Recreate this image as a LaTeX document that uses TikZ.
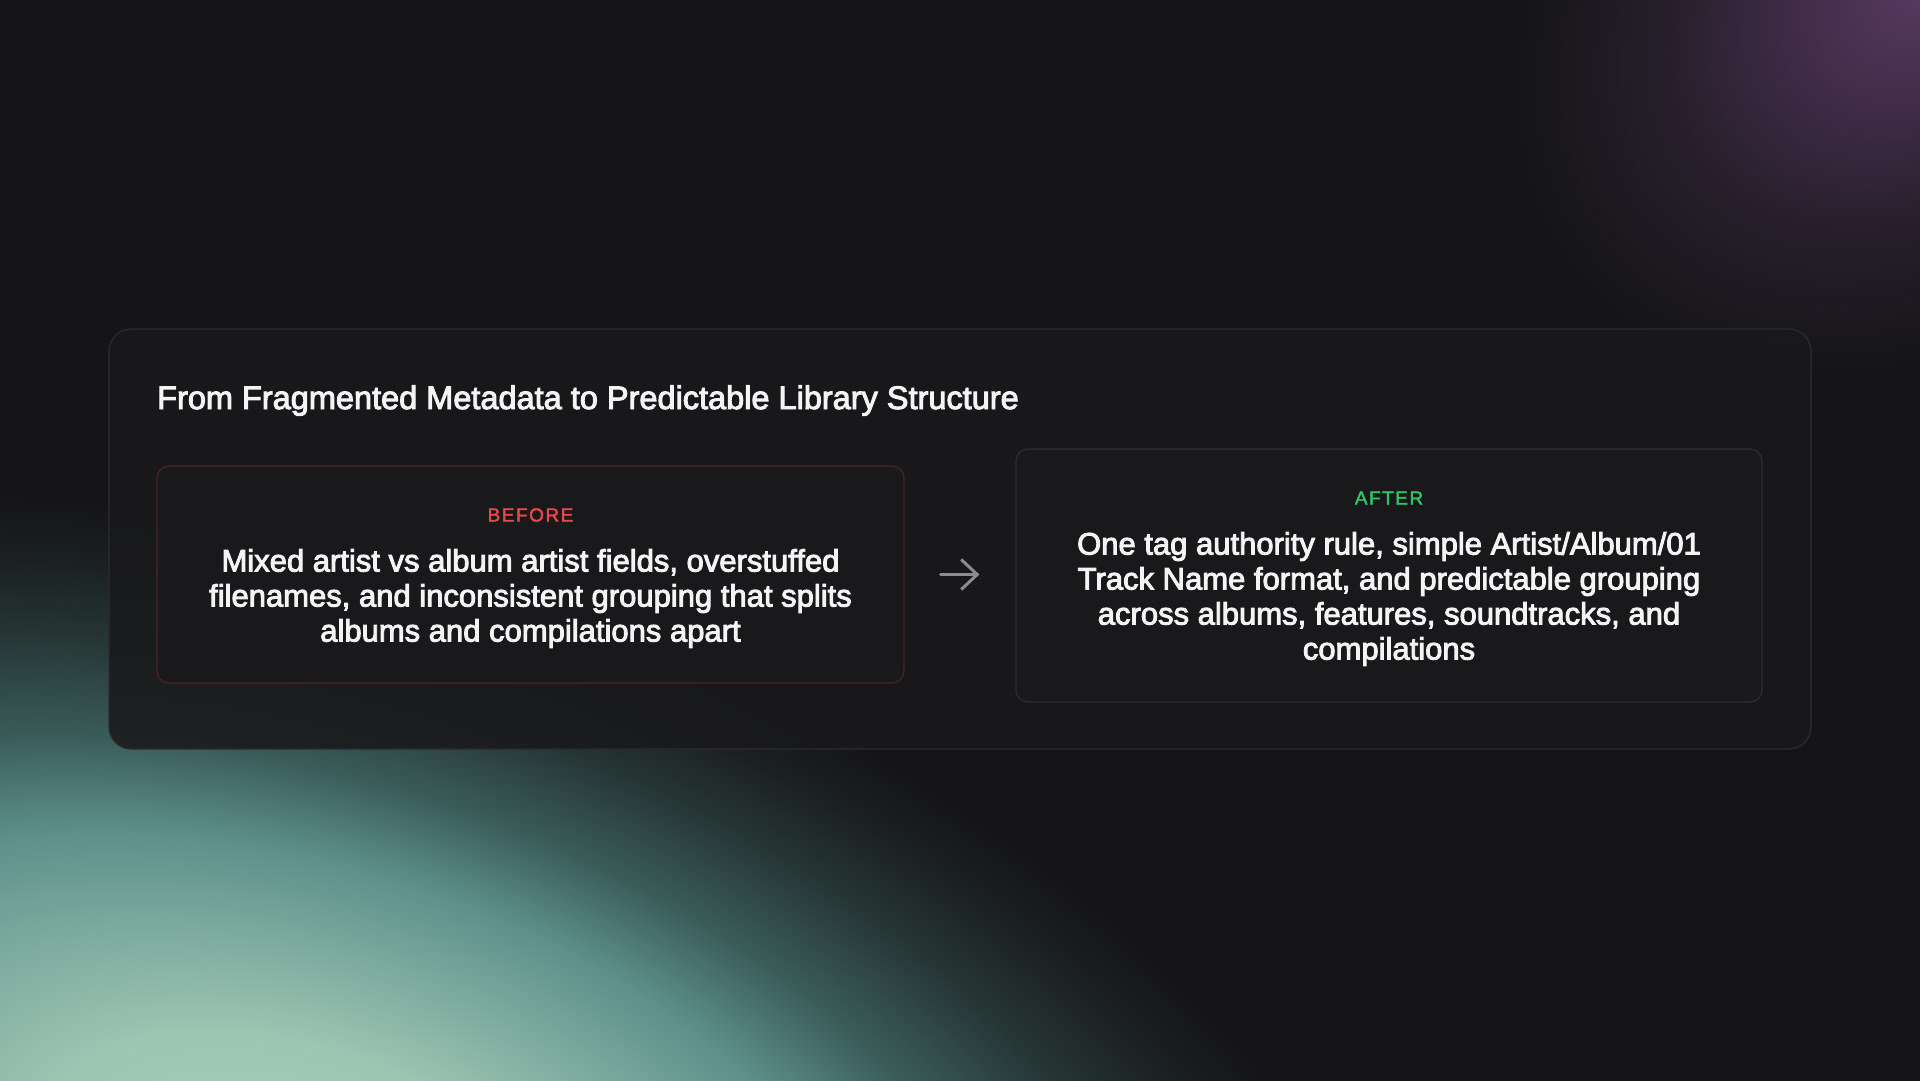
\documentclass[tikz,border=0pt]{standalone}
\usepackage{fontspec}
\usetikzlibrary{arrows.meta}
\setmainfont{Liberation Sans}
\newfontfamily\medfont[FakeBold=3]{Liberation Sans}
\newfontfamily\tagfont[LetterSpace=8,FakeBold=2]{Liberation Sans}

\definecolor{bgdark}{HTML}{151517}
\definecolor{panelfill}{HTML}{19191B}
\definecolor{panelline}{HTML}{2C2C30}
\definecolor{cardfill}{HTML}{19191B}
\definecolor{beforeline}{HTML}{4A2428}
\definecolor{afterline}{HTML}{27332F}
\definecolor{beforered}{HTML}{E5484D}
\definecolor{aftergreen}{HTML}{30C46A}
\definecolor{arrowgray}{HTML}{8C8C8C}
\definecolor{bodywhite}{HTML}{F4F4F4}
\definecolor{glowA}{HTML}{A8D2BE}
\definecolor{glowB}{HTML}{9CC5B2}
\definecolor{glowC}{HTML}{5E918B}
\definecolor{glowD}{HTML}{3A5C59}
\definecolor{glowE}{HTML}{263635}
\definecolor{glowF}{HTML}{1A1F20}
\definecolor{purpA}{HTML}{583C62}
\definecolor{purpB}{HTML}{402C48}
\definecolor{purpC}{HTML}{261F2B}

\pgfdeclareradialshading{tealglow}{\pgfpoint{0bp}{0bp}}{color(0bp)=(glowA); color(6bp)=(glowB); color(13bp)=(glowC); color(16.5bp)=(glowD); color(20bp)=(glowE); color(23bp)=(glowF); color(25bp)=(bgdark); color(50bp)=(bgdark)}
\pgfdeclareradialshading{purpleglow}{\pgfpoint{0bp}{0bp}}{color(0bp)=(purpA); color(8bp)=(purpB); color(16bp)=(purpC); color(25bp)=(bgdark); color(50bp)=(bgdark)}

\begin{document}
\begin{tikzpicture}[x=1pt, y=-1pt,
  card/.style={draw, line width=1.2pt, rounded corners=12pt, fill=cardfill, inner sep=0pt},
  tag/.style={font=\tagfont\fontsize{19}{19}\selectfont, inner sep=0pt},
  body/.style={font=\medfont\fontsize{31}{35}\selectfont, text=bodywhite, align=center, inner sep=0pt}]
\useasboundingbox (0,0) rectangle (1920,1080);
\fill [bgdark] (-4,-4) rectangle (1924,1084);

\begin{scope}
\clip (-2,-2) rectangle (1922,1082);
\begin{scope}[transform canvas={rotate around={-18:(300,1200)}}]
\shade [shading=tealglow] (300,1200) ellipse [x radius=1150, y radius=640];
\end{scope}
\begin{scope}[transform canvas={rotate around={40:(1930,-20)}}]
\shade [shading=purpleglow] (1930,-20) ellipse [x radius=460, y radius=340];
\end{scope}
\end{scope}

\node [draw=panelline, line width=1.2pt, rounded corners=22pt, fill=panelfill, fill opacity=0.88, minimum width=1702pt, minimum height=420pt] (panel) at (960,539) {};
\node [anchor=base west, font=\medfont\fontsize{32.5}{38}\selectfont, text=bodywhite, inner sep=0pt] (title) at (157,409) {From Fragmented Metadata to Predictable Library Structure};

\node [card, draw=beforeline, minimum width=747pt, minimum height=217pt] (before) at (530.5,574.5) {};
\node [tag, text=beforered] (beforetag) at (530.5,515) {BEFORE};
\node [body] (beforetext) at (530.5,598.5) {Mixed artist vs album artist fields, overstuffed\\filenames, and inconsistent grouping that splits\\albums and compilations apart};

\node [card, draw=afterline, minimum width=746pt, minimum height=253pt] (after) at (1389,575.5) {};
\node [tag, text=aftergreen] (aftertag) at (1389,498) {AFTER};
\node [body] (aftertext) at (1389,599) {One tag authority rule, simple Artist/Album/01\\Track Name format, and predictable grouping\\across albums, features, soundtracks, and\\compilations};

\draw [-{Straight Barb[length=16pt, width=30pt]}, line width=3pt, line cap=round, arrowgray, shorten <=36pt, shorten >=36pt] (before.east) -- (before.east -| after.west);
\end{tikzpicture}
\end{document}
